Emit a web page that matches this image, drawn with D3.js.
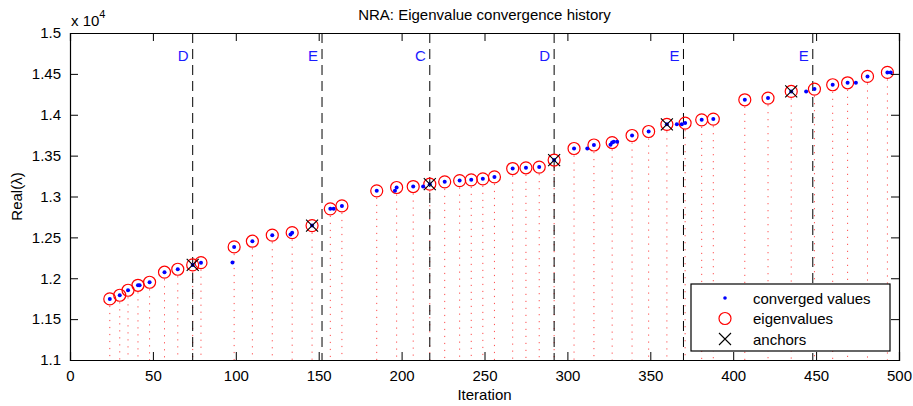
<!DOCTYPE html>
<meta charset="utf-8">
<head>
<title>NRA eigenvalue convergence</title>
</head>
<style>
html, body {
  margin: 0;
  background: #fff;
  overflow: hidden;
}
text {
  font-family: "Liberation Sans", Arial, Helvetica, sans-serif;
  fill: #000;
}
</style>
<body>
<script src="https://cdn.jsdelivr.net/npm/d3@7/dist/d3.min.js"></script>
<script>

// eigenvalues (real part) per iteration
var eigIter = [24, 30, 35, 41, 48, 57, 65, 74, 79, 99, 110, 122, 134, 146, 157, 164,
    185, 197, 207, 217, 226, 235, 242, 249, 256, 267, 275, 283, 292, 304, 316, 327,
    339, 349, 360, 371, 381, 388, 407, 421, 435, 449, 460, 469, 481, 493];
var eigVal = [11747, 11792, 11853, 11914, 11951, 12074, 12110, 12163, 12191, 12383,
    12453, 12527, 12558, 12644, 12849, 12885, 13069, 13110, 13122, 13151, 13179,
    13195, 13204, 13216, 13240, 13342, 13351, 13360, 13446, 13587, 13630, 13660,
    13746, 13795, 13883, 13898, 13938, 13947, 14183, 14204, 14285, 14314, 14367,
    14391, 14469, 14518];

// converged values that don't sit on an eigenvalue circle
var extraIter = [42, 98, 133, 159, 196, 213, 312, 326, 328, 330, 366, 369, 444, 474, 495];
var extraVal = [11914, 12194, 12534, 12849, 13069, 13122, 13586, 13632, 13669, 13669,
    13883, 13883, 14285, 14391, 14518];

// anchors
var anchorIter = [74, 146, 217, 292, 360, 435];
var anchorVal = [12163, 12644, 13151, 13446, 13883, 14285];

// restart markers
var markIter = [74, 152, 217, 292, 370, 448];
var markLabel = ["D", "E", "C", "D", "E", "E"];

var xTicks = [0, 50, 100, 150, 200, 250, 300, 350, 400, 450, 500];
var yTicks = [11000, 11500, 12000, 12500, 13000, 13500, 14000, 14500, 15000];

var W = 913, H = 406;
var margin = {left: 70, right: 14, top: 33, bottom: 46};

var svg = d3.select("body").append("svg")
    .attr("width", W)
    .attr("height", H);

var x = d3.scaleLinear().domain([0, 500]).range([margin.left, W - margin.right]);
var y = d3.scaleLinear().domain([11000, 15000]).range([H - margin.bottom, margin.top]);

var fmtY = function (v) { return d3.format("")(+(v / 10000).toFixed(2)); };

var g = svg.append("g");

// stems (dotted red)
g.append("g").selectAll("line")
    .data(eigIter)
    .enter().append("line")
    .attr("x1", function (d) { return x(d); })
    .attr("x2", function (d) { return x(d); })
    .attr("y1", function (d, i) { return y(eigVal[i]) + 7; })
    .attr("y2", y(11000))
    .attr("stroke", "#f00")
    .attr("stroke-opacity", 0.7)
    .attr("stroke-width", 1)
    .attr("stroke-dasharray", "1.2,5.8");

// dashed vertical restart lines
g.append("g").selectAll("line")
    .data(markIter)
    .enter().append("line")
    .attr("x1", function (d) { return x(d); })
    .attr("x2", function (d) { return x(d); })
    .attr("y1", y(15000))
    .attr("y2", y(11000))
    .attr("stroke", "#000")
    .attr("stroke-width", 1)
    .attr("stroke-dasharray", "10,6");

g.append("g").selectAll("text")
    .data(markIter)
    .enter().append("text")
    .attr("x", function (d) { return x(d) - 4; })
    .attr("y", 61)
    .attr("text-anchor", "end")
    .style("font-size", "15px")
    .style("fill", "#1a1aff")
    .text(function (d, i) { return markLabel[i]; });

// eigenvalue circles
g.append("g").selectAll("circle")
    .data(eigIter)
    .enter().append("circle")
    .attr("cx", function (d) { return x(d); })
    .attr("cy", function (d, i) { return y(eigVal[i]); })
    .attr("r", 6)
    .attr("fill", "none")
    .attr("stroke", "#f00")
    .attr("stroke-width", 1.2);

// converged dots
var conv = eigIter.map(function (d, i) { return [d, eigVal[i]]; })
    .concat(extraIter.map(function (d, i) { return [d, extraVal[i]]; }));
g.append("g").selectAll("circle")
    .data(conv)
    .enter().append("circle")
    .attr("cx", function (d) { return x(d[0]); })
    .attr("cy", function (d) { return y(d[1]); })
    .attr("r", 2)
    .attr("fill", "#0000ff");

// anchors
var cross = d3.symbol().type(d3.symbolCross);
g.append("g").selectAll("path")
    .data(anchorIter)
    .enter().append("path")
    .attr("transform", function (d, i) { return "translate(" + x(d) + "," + y(anchorVal[i]) + ")"; })
    .attr("d", "M-6,-6L6,6M-6,6L6,-6")
    .attr("stroke", "#000")
    .attr("stroke-width", 1.1)
    .attr("fill", "none");

// axes (MATLAB style: box with inward ticks)
var tickLen = 8;
var xb = d3.axisBottom(x).tickValues(xTicks).tickSize(-tickLen).tickPadding(10);
var xt = d3.axisTop(x).tickValues(xTicks).tickSize(-tickLen).tickFormat("");
var yl = d3.axisLeft(y).tickValues(yTicks).tickSize(-tickLen).tickPadding(9).tickFormat(fmtY);
var yr = d3.axisRight(y).tickValues(yTicks).tickSize(-tickLen).tickFormat("");

function styleAxis(sel) {
    sel.selectAll("path").attr("stroke", "#000").attr("stroke-width", 1.2);
    sel.selectAll("line").attr("stroke", "#000").attr("stroke-width", 1);
    sel.selectAll("text").style("font-size", "15px")
        .style("font-family", '"Liberation Sans", Arial, sans-serif').attr("fill", "#000");
}

svg.append("g").attr("transform", "translate(0," + y(11000) + ")").call(xb).call(styleAxis);
svg.append("g").attr("transform", "translate(0," + y(15000) + ")").call(xt).call(styleAxis);
svg.append("g").attr("transform", "translate(" + x(0) + ",0)").call(yl).call(styleAxis);
svg.append("g").attr("transform", "translate(" + x(500) + ",0)").call(yr).call(styleAxis);

// title and labels
svg.append("text")
    .attr("x", (x(0) + x(500)) / 2)
    .attr("y", 20)
    .attr("text-anchor", "middle")
    .style("font-size", "15px")
    .text("NRA: Eigenvalue convergence history");

svg.append("text")
    .attr("x", (x(0) + x(500)) / 2)
    .attr("y", 400)
    .attr("text-anchor", "middle")
    .style("font-size", "15px")
    .text("Iteration");

svg.append("text")
    .attr("transform", "translate(22," + ((y(11000) + y(15000)) / 2) + ") rotate(-90)")
    .attr("text-anchor", "middle")
    .style("font-size", "15px")
    .text("Real(λ)");

var expo = svg.append("text")
    .attr("x", 71)
    .attr("y", 25.5)
    .style("font-size", "15px");
expo.append("tspan").text("x 10");
expo.append("tspan").attr("dy", -8).style("font-size", "11px").text("4");

// legend
var leg = svg.append("g").attr("transform", "translate(691,284)");
leg.append("rect")
    .attr("width", 199).attr("height", 67)
    .attr("fill", "#fff").attr("stroke", "#000").attr("stroke-width", 1.2);

var legItems = ["converged values", "eigenvalues", "anchors"];
var legRow = leg.selectAll("g.item")
    .data(legItems)
    .enter().append("g")
    .attr("class", "item")
    .attr("transform", function (d, i) { return "translate(34," + (14 + i * 20.5) + ")"; });

legRow.append("text")
    .attr("x", 28)
    .attr("y", 5.5)
    .style("font-size", "15px")
    .text(function (d) { return d; });

legRow.filter(function (d, i) { return i === 0; })
    .append("circle").attr("r", 1.8).attr("fill", "#0000ff");
legRow.filter(function (d, i) { return i === 1; })
    .append("circle").attr("r", 6).attr("fill", "none").attr("stroke", "#f00").attr("stroke-width", 1.2);
legRow.filter(function (d, i) { return i === 2; })
    .append("path").attr("d", "M-6,-6L6,6M-6,6L6,-6").attr("stroke", "#000").attr("stroke-width", 1.1);

</script>
</body>
